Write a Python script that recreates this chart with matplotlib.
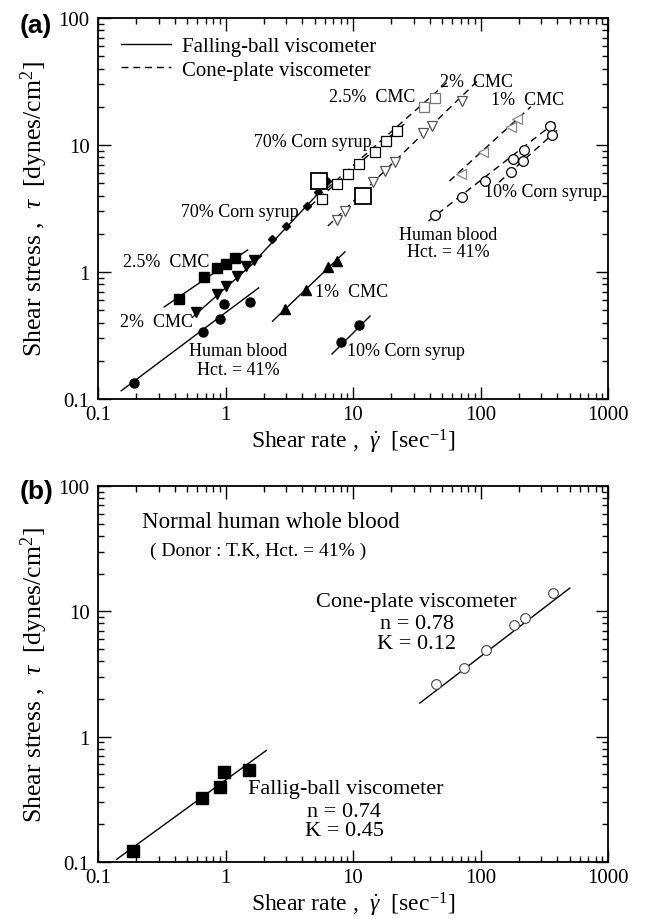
import numpy as np
import matplotlib
matplotlib.use("Agg")
import matplotlib.pyplot as plt
from matplotlib.lines import Line2D
from matplotlib.ticker import LogLocator, FixedLocator, FixedFormatter, NullFormatter

plt.rcParams['font.family'] = ['Liberation Serif', 'DejaVu Serif']
plt.rcParams['mathtext.fontset'] = 'custom'
plt.rcParams['mathtext.rm'] = 'Liberation Serif'
plt.rcParams['mathtext.it'] = 'Liberation Serif:italic'

# ---------------- Panel (a) data ----------------
# Falling-ball viscometer (filled markers, solid fits)
fb_cmc25_x = [0.43, 0.68, 0.85, 1.00, 1.18]
fb_cmc25_y = [0.61, 0.91, 1.07, 1.16, 1.29]
fb_cmc25_fit_x = [0.33, 1.49]
fb_cmc25_fit_y = [0.53, 1.49]

fb_cmc2_x = [0.59, 0.85, 1.00, 1.22, 1.46, 1.66]
fb_cmc2_y = [0.48, 0.67, 0.78, 0.93, 1.11, 1.24]
fb_cmc2_fit_x = [0.55, 1.92]
fb_cmc2_fit_y = [0.44, 1.34]

fb_blood_x = [0.19, 0.67, 0.90, 0.98, 1.55]
fb_blood_y = [0.134, 0.34, 0.43, 0.56, 0.58]
fb_blood_fit_x = [0.152, 1.82]
fb_blood_fit_y = [0.116, 0.75]

fb_corn70_x = [2.30, 2.97, 4.34, 5.30, 6.24]
fb_corn70_y = [1.82, 2.30, 3.31, 4.27, 5.20]
fb_corn70_fit_x = [1.85, 6.6]
fb_corn70_fit_y = [1.34, 5.2]

fb_cmc1_x = [2.92, 4.26, 6.36, 7.48]
fb_cmc1_y = [0.51, 0.72, 1.09, 1.22]
fb_cmc1_fit_x = [2.34, 8.65]
fb_cmc1_fit_y = [0.41, 1.44]

fb_corn10_x = [8.05, 11.2]
fb_corn10_y = [0.28, 0.38]
fb_corn10_fit_x = [6.84, 13.6]
fb_corn10_fit_y = [0.226, 0.45]

# Cone-plate viscometer (open markers, dashed fits)
cp_corn70_x = [5.7, 7.48, 9.14, 11.1, 14.9, 18.2, 22.2]
cp_corn70_y = [3.76, 4.93, 5.91, 7.08, 8.81, 10.7, 12.9]
cp_corn70_fit_x = [4.6, 26.0]
cp_corn70_fit_y = [3.3, 15.0]

cp_big_x = [5.4, 12.0]
cp_big_y = [5.2, 3.96]

cp_cmc25_x = [36.2, 44.2]
cp_cmc25_y = [19.9, 23.5]
cp_cmc25_fit_x = [6.2, 55.0]
cp_cmc25_fit_y = [4.5, 31.3]

cp_cmc2_x = [7.5, 8.65, 14.4, 17.9, 21.4, 35.6, 42.0, 72.0]
cp_cmc2_y = [2.55, 3.02, 5.12, 6.24, 7.35, 12.5, 14.2, 22.2]
cp_cmc2_fit_x = [6.35, 94.6]
cp_cmc2_fit_y = [2.3, 31.9]

cp_cmc1_x = [69.7, 104.0, 172.0, 195.0]
cp_cmc1_y = [5.91, 8.81, 13.9, 16.0]
cp_cmc1_fit_x = [57.0, 248.0]
cp_cmc1_fit_y = [5.2, 20.0]

cp_blood_x = [44.0, 72.1, 109.0, 179.0, 218.0, 349.0]
cp_blood_y = [2.81, 3.90, 5.21, 7.76, 9.14, 14.1]
cp_blood_fit_x = [39.0, 400.0]
cp_blood_fit_y = [2.52, 15.5]

cp_corn10_x = [172.0, 214.0, 362.0]
cp_corn10_y = [6.1, 7.5, 12.0]
cp_corn10_fit_x = [140.0, 420.0]
cp_corn10_fit_y = [5.1, 13.7]

# ---------------- Panel (b) data ----------------
b_fb_x = [0.187, 0.66, 0.90, 0.98, 1.54]
b_fb_y = [0.122, 0.325, 0.40, 0.52, 0.54]
b_fb_n, b_fb_K = 0.74, 0.45
b_fb_range = [0.14, 2.09]

b_cp_x = [44.5, 73.6, 111.0, 184.0, 225.0, 372.0]
b_cp_y = [2.61, 3.56, 4.88, 7.73, 8.79, 13.9]
b_cp_n, b_cp_K = 0.78, 0.12
b_cp_range = [33.4, 502.0]

x_ticks = [0.1, 1, 10, 100, 1000]
x_ticklabels = ['0.1', '1', '10', '100', '1000']
y_ticks = [0.1, 1, 10, 100]
y_ticklabels = ['0.1', '1', '10', '100']

W, H = 647, 920
fig = plt.figure(figsize=(W / 100, H / 100), dpi=100)
axA = fig.add_axes([98 / W, 1 - 400 / H, 510 / W, 381 / H])
axB = fig.add_axes([98 / W, 1 - 863 / H, 510 / W, 376 / H])

DASH = (0, (5, 3.5))
LW = 1.0


def style_axes(ax):
    ax.set_xscale('log')
    ax.set_yscale('log')
    ax.set_xlim(0.1, 1000)
    ax.set_ylim(0.1, 100)
    ax.xaxis.set_major_locator(FixedLocator(x_ticks))
    ax.xaxis.set_major_formatter(FixedFormatter(x_ticklabels))
    ax.yaxis.set_major_locator(FixedLocator(y_ticks))
    ax.yaxis.set_major_formatter(FixedFormatter(y_ticklabels))
    ax.xaxis.set_minor_locator(LogLocator(base=10, subs=np.arange(2, 10)))
    ax.yaxis.set_minor_locator(LogLocator(base=10, subs=np.arange(2, 10)))
    ax.xaxis.set_minor_formatter(NullFormatter())
    ax.yaxis.set_minor_formatter(NullFormatter())
    ax.tick_params(which='both', direction='in', top=True, right=True, width=1.0)
    ax.tick_params(which='major', length=9, labelsize=15)
    ax.tick_params(axis='x', which='major', pad=4)
    ax.tick_params(axis='y', which='major', pad=6)
    ax.tick_params(which='minor', length=4.5)
    for s in ax.spines.values():
        s.set_linewidth(1.3)
    ax.set_xlabel(r'Shear rate ,  $\dot{\gamma}$  [sec$^{\mathrm{-1}}$]', fontsize=17, labelpad=2)
    ax.set_ylabel(r'Shear stress ,  $\tau$  [dynes/cm$^{2}$]', fontsize=18.5, labelpad=6)


style_axes(axA)
style_axes(axB)

# ---- Panel (a) ----
fb_series = [
    (fb_cmc25_x, fb_cmc25_y, fb_cmc25_fit_x, fb_cmc25_fit_y, 's', 7.5),
    (fb_cmc2_x, fb_cmc2_y, fb_cmc2_fit_x, fb_cmc2_fit_y, 'v', 7),
    (fb_blood_x, fb_blood_y, fb_blood_fit_x, fb_blood_fit_y, 'o', 6.5),
    (fb_corn70_x, fb_corn70_y, fb_corn70_fit_x, fb_corn70_fit_y, 'D', 4.2),
    (fb_cmc1_x, fb_cmc1_y, fb_cmc1_fit_x, fb_cmc1_fit_y, '^', 7),
    (fb_corn10_x, fb_corn10_y, fb_corn10_fit_x, fb_corn10_fit_y, 'o', 6.5),
]
for x, y, fx, fy, m, ms in fb_series:
    axA.plot(fx, fy, color='black', lw=LW, zorder=2)
    axA.plot(x, y, linestyle='none', marker=m, ms=ms, color='black', zorder=3)

cp_series = [
    (cp_corn70_x, cp_corn70_y, cp_corn70_fit_x, cp_corn70_fit_y, 's', 7, 'black'),
    (cp_cmc25_x, cp_cmc25_y, cp_cmc25_fit_x, cp_cmc25_fit_y, 's', 7, '#777777'),
    (cp_cmc2_x, cp_cmc2_y, cp_cmc2_fit_x, cp_cmc2_fit_y, 'v', 7, '#555555'),
    (cp_cmc1_x, cp_cmc1_y, cp_cmc1_fit_x, cp_cmc1_fit_y, '<', 7, '#888888'),
    (cp_blood_x, cp_blood_y, cp_blood_fit_x, cp_blood_fit_y, 'o', 7, 'black'),
    (cp_corn10_x, cp_corn10_y, cp_corn10_fit_x, cp_corn10_fit_y, 'o', 7, 'black'),
]
for x, y, fx, fy, m, ms, ec in cp_series:
    axA.plot(fx, fy, color='black', lw=LW, linestyle=DASH, zorder=2)
    axA.plot(x, y, linestyle='none', marker=m, ms=ms, mfc='white', mec=ec, mew=0.9, zorder=3)
axA.plot(cp_big_x, cp_big_y, linestyle='none', marker='s', ms=11, mfc='white', mec='black', mew=1.3, zorder=4)

leg = axA.legend(handles=[Line2D([], [], color='black', lw=LW),
                          Line2D([], [], color='black', lw=LW, linestyle=DASH)],
                 labels=['Falling-ball viscometer', 'Cone-plate viscometer'],
                 loc='upper left', bbox_to_anchor=(0.02, 0.985), frameon=False, fontsize=15,
                 handlelength=2.4, handletextpad=0.55, labelspacing=0.2, borderaxespad=0.2)

fs = 13
txtA = [
    (14.1, 24.3, '2.5%  CMC', 'center'),
    (93.0, 31.9, '2%  CMC', 'center'),
    (234.0, 23.0, '1%  CMC', 'center'),
    (4.84, 10.7, '70% Corn syrup', 'center'),
    (106.0, 4.27, '10% Corn syrup', 'left'),
    (56.0, 1.99, 'Human blood', 'center'),
    (56.0, 1.46, 'Hct. = 41%', 'center'),
    (1.29, 3.02, '70% Corn syrup', 'center'),
    (0.343, 1.2, '2.5%  CMC', 'center'),
    (0.286, 0.404, '2%  CMC', 'center'),
    (9.8, 0.70, '1%  CMC', 'center'),
    (1.26, 0.239, 'Human blood', 'center'),
    (1.26, 0.172, 'Hct. = 41%', 'center'),
    (8.97, 0.239, '10% Corn syrup', 'left'),
]
for x, y, s, ha in txtA:
    axA.text(x, y, s, fontsize=fs, ha=ha, va='center', zorder=5)

# ---- Panel (b) ----
fbx = np.array(b_fb_range)
axB.plot(fbx, b_fb_K * fbx ** b_fb_n, color='black', lw=LW)
axB.plot(b_fb_x, b_fb_y, linestyle='none', marker='s', ms=8.5, color='black')
cpx = np.array(b_cp_range)
axB.plot(cpx, b_cp_K * cpx ** b_cp_n, color='black', lw=LW)
axB.plot(b_cp_x, b_cp_y, linestyle='none', marker='o', ms=7, mfc='white', mec='#444444', mew=0.8)

axB.text(0.221, 52.5, 'Normal human whole blood', fontsize=16.5, ha='left', va='center')
axB.text(0.255, 30.8, '( Donor : T.K, Hct. = 41% )', fontsize=14, ha='left', va='center')
axB.text(31.6, 12.0, 'Cone-plate viscometer', fontsize=16, ha='center', va='center')
axB.text(31.6, 8.0, f'n = {b_cp_n:.2f}', fontsize=16, ha='center', va='center')
axB.text(31.6, 5.5, f'K = {b_cp_K:.2f}', fontsize=16, ha='center', va='center')
axB.text(8.7, 0.384, 'Fallig-ball viscometer', fontsize=16, ha='center', va='center')
axB.text(8.5, 0.251, f'n = {b_fb_n:.2f}', fontsize=16, ha='center', va='center')
axB.text(8.5, 0.177, f'K = {b_fb_K:.2f}', fontsize=16, ha='center', va='center')

fig.text(20 / W, 1 - 26 / H, '(a)', fontsize=19, fontweight='bold', family='Liberation Sans', va='center', ha='left')
fig.text(20 / W, 1 - 492 / H, '(b)', fontsize=19, fontweight='bold', family='Liberation Sans', va='center', ha='left')

fig.savefig('out.png', dpi=100)
